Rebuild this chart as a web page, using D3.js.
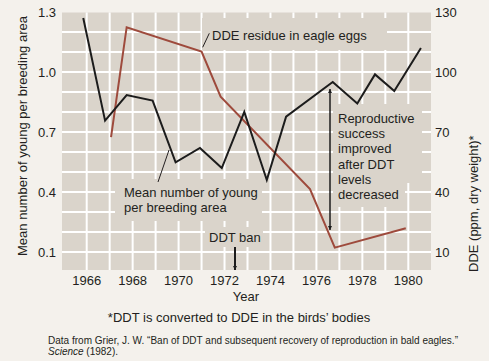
<!DOCTYPE html>
<html>
<head>
<meta charset="utf-8">
<script src="https://cdn.jsdelivr.net/npm/d3@7"></script>
<style>
  body { margin: 0; background: #f4f1ec; }
  svg { display: block; font-family: "Liberation Sans", Arial, sans-serif; }
  text { fill: #231f20; }
</style>
</head>
<body>
<svg id="chart" width="489" height="361"></svg>
<script>
// mean number of young per breeding area (left axis)
const youngYears = [1965.85, 1966.8, 1967.74, 1968.87, 1969.87, 1970.93, 1971.88, 1972.86, 1973.84, 1974.68, 1976.71, 1977.78, 1978.55, 1979.39, 1980.55];
const youngValues = [1.27, 0.757, 0.885, 0.857, 0.548, 0.62, 0.52, 0.80, 0.46, 0.777, 0.95, 0.843, 0.988, 0.905, 1.12];

// DDE residue in eagle eggs, ppm dry weight (right axis)
const ddeYears = [1967.06, 1967.74, 1971.0, 1971.83, 1975.72, 1976.8, 1979.89];
const ddeValues = [67.4, 122.4, 110.2, 87.7, 41.5, 12.2, 21.9];

const yearTicks = [1966, 1968, 1970, 1972, 1974, 1976, 1978, 1980];
const leftTicks = [0.1, 0.4, 0.7, 1.0, 1.3];
const rightTicks = [10, 40, 70, 100, 130];

const svg = d3.select('#chart');
const plot = {left: 62, right: 431, top: 12.5, bottom: 270};

const x = d3.scaleLinear().domain([1966, 1980]).range([86.7, 408.3]);
const yL = d3.scaleLinear().domain([0, 1.3]).range([272, 12]);
const yR = d3.scaleLinear().domain([0, 130]).range([272, 12]);

const bg = '#dad4cb';

svg.append('rect')
    .attr('x', plot.left).attr('y', plot.top)
    .attr('width', plot.right - plot.left)
    .attr('height', plot.bottom - plot.top)
    .attr('fill', bg);

// white grid, every year and every 0.1
const grid = svg.append('g').attr('stroke', '#fff').attr('stroke-width', 2);
grid.selectAll('line.v')
    .data(d3.range(1966, 1981))
    .join('line')
    .attr('x1', d => x(d)).attr('x2', d => x(d))
    .attr('y1', plot.top).attr('y2', plot.bottom);
grid.selectAll('line.h')
    .data(d3.range(1, 13).map(d => d / 10))
    .join('line')
    .attr('x1', plot.left).attr('x2', plot.right)
    .attr('y1', d => yL(d)).attr('y2', d => yL(d));

// knock-out boxes behind the annotation text
const boxes = [
    [202, 18, 387, 50],
    [115, 179, 262, 221],
    [205, 227, 263, 247],
    [333, 104, 422, 183],
    [333, 183, 405, 207]
];
svg.append('g').selectAll('rect')
    .data(boxes)
    .join('rect')
    .attr('x', d => d[0]).attr('y', d => d[1])
    .attr('width', d => d[2] - d[0]).attr('height', d => d[3] - d[1])
    .attr('fill', bg);

// series
svg.append('path')
    .datum(ddeYears.map((d, i) => [d, ddeValues[i]]))
    .attr('fill', 'none')
    .attr('stroke', '#9e4a3c')
    .attr('stroke-width', 2)
    .attr('d', d3.line().x(d => x(d[0])).y(d => yR(d[1])));

svg.append('path')
    .datum(youngYears.map((d, i) => [d, youngValues[i]]))
    .attr('fill', 'none')
    .attr('stroke', '#1c1c1c')
    .attr('stroke-width', 2)
    .attr('d', d3.line().x(d => x(d[0])).y(d => yL(d[1])));

// axes labels
svg.append('g').selectAll('text')
    .data(yearTicks)
    .join('text')
    .attr('x', d => x(d)).attr('y', 285)
    .attr('text-anchor', 'middle')
    .attr('font-size', 13)
    .text(d => d);

svg.append('g').selectAll('text')
    .data(leftTicks)
    .join('text')
    .attr('x', 56).attr('y', d => yL(d) + 4.5)
    .attr('text-anchor', 'end')
    .attr('font-size', 13)
    .text(d => d3.format('.1f')(d));

svg.append('g').selectAll('text')
    .data(rightTicks)
    .join('text')
    .attr('x', 435).attr('y', d => yR(d) + 4.5)
    .attr('font-size', 13)
    .text(d => d);

svg.append('text')
    .attr('x', 246).attr('y', 301)
    .attr('text-anchor', 'middle')
    .attr('font-size', 13)
    .text('Year');

svg.append('text')
    .attr('transform', 'translate(27,136) rotate(-90)')
    .attr('text-anchor', 'middle')
    .attr('font-size', 13)
    .text('Mean number of young per breeding area');

svg.append('text')
    .attr('transform', 'translate(478,272) rotate(-90)')
    .attr('font-size', 13)
    .text('DDE (ppm, dry weight)*');

svg.append('text')
    .attr('x', 239).attr('y', 322)
    .attr('text-anchor', 'middle')
    .attr('font-size', 13)
    .text('*DDT is converted to DDE in the birds\u2019 bodies');

const src = svg.append('g').attr('font-size', 10);
src.append('text')
    .attr('x', 48).attr('y', 344)
    .attr('textLength', 410)
    .text('Data from Grier, J. W. \u201cBan of DDT and subsequent recovery of reproduction in bald eagles.\u201d');
const src2 = src.append('text').attr('x', 48).attr('y', 355);
src2.append('tspan').attr('font-style', 'italic').text('Science');
src2.append('tspan').text(' (1982).');

// annotations
const ann = svg.append('g').attr('font-size', 13);
ann.append('text').attr('x', 212).attr('y', 40).text('DDE residue in eagle eggs');
ann.append('line')
    .attr('x1', 202.7).attr('y1', 47.3).attr('x2', 209.3).attr('y2', 33.3)
    .attr('stroke', '#231f20').attr('stroke-width', 1);

const mean = ann.append('text').attr('x', 124).attr('y', 197);
mean.append('tspan').attr('x', 124).text('Mean number of young');
mean.append('tspan').attr('x', 124).attr('dy', 15).text('per breeding area');
ann.append('line')
    .attr('x1', 158).attr('y1', 182).attr('x2', 169).attr('y2', 150)
    .attr('stroke', '#231f20').attr('stroke-width', 1);

ann.append('text').attr('x', 209).attr('y', 242).text('DDT ban');

const rep = ann.append('text');
['Reproductive', 'success', 'improved', 'after DDT', 'levels', 'decreased'].forEach((t, i) => {
    rep.append('tspan').attr('x', 338).attr('y', 123 + i * 15.2).text(t);
});

// arrows
const defs = svg.append('defs');
defs.append('marker')
    .attr('id', 'head')
    .attr('viewBox', '0 0 10 10')
    .attr('refX', 10).attr('refY', 5)
    .attr('markerWidth', 4).attr('markerHeight', 5)
    .attr('markerUnits', 'userSpaceOnUse')
    .attr('orient', 'auto-start-reverse')
    .append('path')
    .attr('d', 'M0,0L10,5L0,10Z')
    .attr('fill', '#1c1c1c');

svg.append('line')
    .attr('x1', 235).attr('y1', 247).attr('x2', 235).attr('y2', 270)
    .attr('stroke', '#1c1c1c').attr('stroke-width', 2)
    .attr('marker-end', 'url(#head)');

svg.append('line')
    .attr('x1', 330).attr('y1', 89).attr('x2', 330).attr('y2', 230)
    .attr('stroke', '#1c1c1c').attr('stroke-width', 1.5)
    .attr('marker-start', 'url(#head)')
    .attr('marker-end', 'url(#head)');
</script>
</body>
</html>
